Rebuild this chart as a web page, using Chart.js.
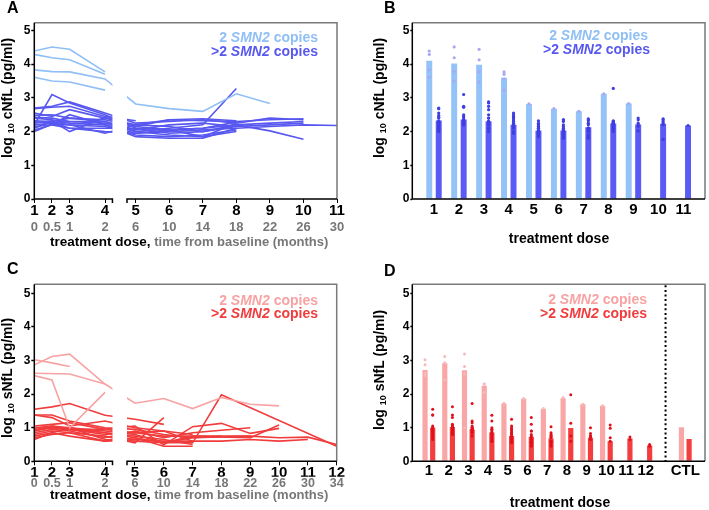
<!DOCTYPE html>
<html><head><meta charset="utf-8">
<script src="https://cdn.jsdelivr.net/npm/chart.js@4.4.1/dist/chart.umd.min.js"></script>
<style>
html,body{margin:0;padding:0;background:#fff;}
#wrap{position:relative;width:709px;height:510px;overflow:hidden;font-family:"Liberation Sans",Arial,sans-serif;}
#wrap canvas{position:absolute;}
.t{position:absolute;font-weight:bold;white-space:nowrap;line-height:1;}
.pl{font-size:16px;color:#000;}
.yt{font-size:14px;color:#000;transform:translate(-50%,-50%) rotate(-90deg);}
.yt sub{font-size:9px;vertical-align:-2px;}
.lg{font-size:14px;}
.xt{font-size:13.5px;color:#000;}
.xt span{color:#777;font-size:13px;}
.xc{font-size:14px;color:#000;transform:translateX(-50%);}
</style></head>
<body><div id="wrap">
<canvas id="cA" width="354" height="255" style="left:0;top:0"></canvas>
<canvas id="cB" width="355" height="255" style="left:354px;top:0"></canvas>
<canvas id="cC" width="354" height="255" style="left:0;top:255px"></canvas>
<canvas id="cD" width="355" height="255" style="left:354px;top:255px"></canvas>

<div class="t pl" style="left:7px;top:0px">A</div>
<div class="t pl" style="left:384px;top:0px">B</div>
<div class="t pl" style="left:7px;top:261px">C</div>
<div class="t pl" style="left:384px;top:263px">D</div>

<div class="t yt" style="left:8px;top:98px">log <sub>10</sub> cNfL (pg/ml)</div>
<div class="t yt" style="left:380px;top:98px">log <sub>10</sub> cNfL (pg/ml)</div>
<div class="t yt" style="left:8px;top:378px">log <sub>10</sub> sNfL (pg/ml)</div>
<div class="t yt" style="left:380px;top:370px">log <sub>10</sub> sNfL (pg/ml)</div>

<div class="t lg" style="right:391px;top:30px;color:#8fbff5">2 <i>SMN2</i> copies</div>
<div class="t lg" style="right:391px;top:44px;color:#5858f0">&gt;2 <i>SMN2</i> copies</div>
<div class="t lg" style="right:61px;top:28px;color:#8fbff5">2 <i>SMN2</i> copies</div>
<div class="t lg" style="right:59px;top:42px;color:#5858f0">&gt;2 <i>SMN2</i> copies</div>
<div class="t lg" style="right:391px;top:293px;color:#f7a3a3">2 <i>SMN2</i> copies</div>
<div class="t lg" style="right:391px;top:306px;color:#f03c3c">&gt;2 <i>SMN2</i> copies</div>
<div class="t lg" style="right:62px;top:292px;color:#f7a3a3">2 <i>SMN2</i> copies</div>
<div class="t lg" style="right:62px;top:306px;color:#f03c3c">&gt;2 <i>SMN2</i> copies</div>

<div class="t xt" style="left:50px;top:235px">treatment dose, <span>time from baseline (months)</span></div>
<div class="t xt" style="left:50px;top:488px">treatment dose, <span>time from baseline (months)</span></div>
<div class="t xc" style="left:559px;top:231px">treatment dose</div>
<div class="t xc" style="left:560px;top:495px">treatment dose</div>
</div>
<script>
// ---------------- DATA ----------------
const Y_TICKS = [0, 1, 2, 3, 4, 5];

// Panel A / B : cNfL
const DOSES_A = ['1','2','3','4','5','6','7','8','9','10','11'];
const MONTHS_A = [0, 0.5, 1, 2, 6, 10, 14, 18, 22, 26, 30];
const MONTH_LABELS_A = ['0','0.5','1','2','6','10','14','18','22','26','30'];

// 2 SMN2 copies, one row per patient, values by dose (null = no sample)
const CNFL_TWO = [
  [4.39, 4.51, 4.44, 3.77],
  [4.29, 4.19, 4.13, 3.70],
  [3.83, 3.78, 3.77, 3.56, 2.82, 2.68, 2.60, 3.12, 2.83],
  [3.61, 3.50, 3.47, 3.23]
];
// >2 SMN2 copies
const CNFL_MORE = [
  [2.20, 3.10, 2.85, 2.50, 2.10, 2.05, 2.10, 2.20, 2.25, 2.30, null],
  [2.70, 2.75, 2.88, 2.55, 2.25, 2.30, 2.35, 2.25, 2.40, 2.35, null],
  [2.68, 2.72, 2.75, 2.45, 2.32, null, null, null, null, null, null],
  [2.55, 2.45, 2.65, 2.40, 2.20, 2.35, 2.32, 2.30, 2.35, 2.38, null],
  [2.48, 2.50, 2.40, 2.30, 2.05, 2.20, 2.25, 2.15, 2.20, 2.25, null],
  [2.42, 2.40, 2.30, 2.25, 2.00, 2.10, 2.20, 3.28, null, null, null],
  [2.40, 2.35, 2.25, 2.20, 1.95, 2.00, 2.05, 2.10, 2.15, 2.20, 2.18],
  [2.32, 2.30, 2.20, 2.15, 1.90, 1.85, 1.90, 2.05, null, null, null],
  [2.28, 2.28, 2.10, 2.10, 2.10, 1.95, 2.00, 2.20, 2.02, 1.77, null],
  [2.25, 2.32, 2.00, 2.42, 2.15, 2.05, 1.85, 2.25, null, null, null],
  [2.20, 2.25, 2.30, 2.30, 2.00, 1.90, 1.85, 2.00, null, null, null],
  [2.15, 2.20, 2.50, 2.20, 1.85, 1.80, 1.80, 2.10, null, null, null],
  [2.10, 2.30, 2.40, 2.35, 2.15, 2.35, 2.38, 2.32, null, null, null],
  [2.05, 2.20, 2.10, 2.00, 1.95, 2.05, 2.10, 2.28, null, null, null],
  [2.00, 2.22, 2.20, 1.95, 2.20, 2.15, 2.00, 2.15, null, null, null]
];
const B_LABELS = ['1','2','3','4','5','6','7','8','9','10','11'];
const B_TWO_BARS  = [4.10, 4.02, 3.98, 3.60, 2.82, 2.68, 2.60, 3.12, 2.83];
const B_MORE_BARS = [2.33, 2.36, 2.31, 2.20, 2.03, 2.03, 2.13, 2.24, 2.21, 2.23, 2.18];

// Panel C / D : sNfL
const DOSES_C = ['1','2','3','4','5','6','7','8','9','10','11','12'];
const MONTHS_C = [0, 0.5, 1, 2, 6, 10, 14, 18, 22, 26, 30, 34];
const MONTH_LABELS_C = ['0','0.5','1','2','6','10','14','18','22','26','30','34'];
const SNFL_TWO = [
  [2.87, 3.12, 3.19, 2.30, 1.73, 1.87, 1.57, 1.90, 1.70, 1.65],
  [3.02, 2.93, 2.82],
  [2.62, null, 2.60, 2.30],
  [2.55, 2.42, 1.00, 2.05]
];
const SNFL_MORE = [
  [1.55, 1.62, 1.72, 1.37, 1.25, 1.10, null, null, null, null, null, null],
  [1.38, 1.38, 1.20, 1.00, 0.95, 0.80, 0.70, null, 0.75, null, null, null],
  [0.80, 0.90, 0.85, 0.75, 0.55, 1.30, null, null, null, null, null, null],
  [1.00, 1.05, 1.00, 0.90, 0.80, 0.55, 0.75, null, 0.70, 1.08, null, null],
  [1.05, 1.10, 1.15, 0.95, 1.05, 0.49, 1.03, 1.13, 0.83, 0.98, null, null],
  [0.95, 1.00, 0.95, 0.80, 0.85, 0.75, 0.75, null, 0.75, 0.70, 0.72, 0.50],
  [0.70, 0.80, 0.85, 0.60, 0.65, 0.60, 0.60, 0.60, 0.65, 0.60, 0.65, null],
  [0.85, 0.95, 0.90, 0.70, 0.90, 0.70, 0.85, null, 1.00, null, null, null],
  [1.38, 1.30, 1.05, 1.20, 1.00, 0.90, 0.60, null, null, null, null, null],
  [0.65, 0.85, 1.00, 0.65, 0.60, 0.55, 0.70, 0.75, null, null, null, null],
  [0.75, 0.85, 0.75, 0.60, 0.70, 0.45, 0.45, null, null, null, null, null],
  [1.00, 1.00, 0.95, 0.95, 0.85, 0.90, 0.80, null, null, null, null, null],
  [0.90, 1.05, 0.95, 0.85, 0.75, 0.65, 0.50, null, null, null, null, null],
  [0.90, 1.00, 1.00, 0.85, 0.70, 0.55, 0.55, 1.98, null, null, null, 0.45]
];
const D_LABELS = ['1','2','3','4','5','6','7','8','9','10','11','12','','CTL'];
const D_TWO_BARS  = [2.72, 2.92, 2.71, 2.25, 1.72, 1.86, 1.56, 1.88, 1.70, 1.65];
const D_MORE_BARS = [1.00, 1.02, 0.95, 0.86, 0.75, 0.73, 0.68, 0.99, 0.70, 0.60, 0.68, 0.47];
const CTL_TWO  = 1.01;
const CTL_MORE = 0.66;

// ---------------- STYLE ----------------
const FONT = '"Liberation Sans", Arial, sans-serif';
Chart.defaults.font.family = FONT;
const COL = {
  lb: '#8fbff5', db: '#5858f0', lbBar: '#93c3f7', dbBar: '#5a5af5', lbDot: '#a9a9f2', dbDot: '#3e3ee2',
  lr: '#f7a3a3', dr: '#f03c3c', lrBar: '#f9a6a6', drBar: '#f43e3e', lrDot: '#f5baba', drDot: '#e0101a',
  frame: '#7a7a7a', grey: '#777'
};

// broken time axis: value -> decimal mapping for the two segments
const BRK = {
  A: { a: [0, 0, 2, 0.2336], b: [6, 0.335, 30, 1], split: 4, gap: [2.21, 4.96] },
  C: { a: [0, 0, 2, 0.2338], b: [6, 0.333, 34, 1], split: 4, gap: [2.212, 4.89] }
};
class BrokenScale extends Chart.LinearScale {
  static id = 'broken';
  getPixelForValue(v) {
    if (v === null || v === undefined || isNaN(v)) return NaN;
    const m = BRK[this.options.brkKey];
    const s = v <= m.split ? m.a : m.b;
    const dec = s[1] + (v - s[0]) * (s[3] - s[1]) / (s[2] - s[0]);
    return this.getPixelForDecimal(dec);
  }
  getValueForPixel(p) {
    const m = BRK[this.options.brkKey];
    const dec = this.getDecimalForPixel(p);
    const s = dec <= (m.a[3] + m.b[1]) / 2 ? m.a : m.b;
    return s[0] + (dec - s[1]) * (s[2] - s[0]) / (s[3] - s[1]);
  }
}
Chart.register(BrokenScale);

function framePlugin(o) {
  return {
    id: 'frame' + Math.random().toString(36).slice(2),
    afterDatasetsDraw(chart) {
      const { ctx, chartArea: a, scales } = chart;
      ctx.save();
      let g0, g1;
      if (o.gapKey) {
        const g = BRK[o.gapKey].gap;
        g0 = scales.x.getPixelForValue(g[0]);
        g1 = scales.x.getPixelForValue(g[1]);
        ctx.fillStyle = '#fff';
        ctx.fillRect(g0, a.top + 1, g1 - g0, a.bottom - a.top + 1);
      }
      if (o.divider !== undefined) {
        const xd = scales.x.getPixelForValue(o.divider);
        ctx.strokeStyle = '#000'; ctx.lineWidth = 2; ctx.setLineDash([2, 2.6]);
        ctx.beginPath(); ctx.moveTo(xd, a.top + 1); ctx.lineTo(xd, a.bottom); ctx.stroke();
        ctx.setLineDash([]);
      }
      ctx.strokeStyle = COL.frame; ctx.lineWidth = 1.5;
      ctx.beginPath(); ctx.moveTo(a.left, a.top); ctx.lineTo(a.right, a.top); ctx.lineTo(a.right, a.bottom); ctx.stroke();
      ctx.strokeStyle = '#000'; ctx.lineWidth = 1.5;
      ctx.beginPath();
      ctx.moveTo(a.left, a.top); ctx.lineTo(a.left, a.bottom);
      if (o.gapKey) {
        ctx.lineTo(g0, a.bottom); ctx.lineTo(g0, a.bottom + 4);
        ctx.moveTo(g1, a.bottom + 4); ctx.lineTo(g1, a.bottom); ctx.lineTo(a.right, a.bottom);
      } else {
        ctx.lineTo(a.right, a.bottom);
      }
      ctx.stroke();
      ctx.restore();
    }
  };
}

function yScale(max, width, tickLen) {
  return {
    type: 'linear', min: 0, max: max, position: 'left',
    afterBuildTicks: s => { s.ticks = Y_TICKS.map(v => ({ value: v })); },
    afterFit: s => { s.width = width; },
    grid: { drawOnChartArea: false, drawTicks: true, tickLength: tickLen, tickColor: '#000', tickWidth: 1.5 },
    border: { display: false },
    ticks: { color: '#000', font: { size: 12, weight: 'bold', lineHeight: 1 }, padding: 1 }
  };
}
function brokenX(key, months, labels, h, tickLen, pad, size, color, weight, ticksOn) {
  return {
    type: 'broken', brkKey: key, axis: 'x', position: 'bottom', weight: weight,
    min: months[0], max: months[months.length - 1],
    afterBuildTicks: s => { s.ticks = months.map(v => ({ value: v })); },
    afterFit: s => { s.height = h; },
    grid: { display: ticksOn, drawOnChartArea: false, drawTicks: ticksOn, tickLength: tickLen, tickColor: '#000', tickWidth: 1 },
    border: { display: false },
    ticks: { autoSkip: false, maxRotation: 0, minRotation: 0, color: color,
      font: { size: size, weight: 'bold', lineHeight: 1 }, padding: pad, callback: (v, i) => labels[i] }
  };
}
function lineSets(rows, months, color) {
  return rows.map(r => ({
    type: 'line', data: r.map((v, i) => ({ x: months[i], y: v })),
    borderColor: color, borderWidth: 1.6, pointRadius: 0, tension: 0, spanGaps: true, fill: false
  }));
}
function dots(rows, offset) {
  const pts = [];
  rows.forEach(r => r.forEach((v, i) => { if (v !== null && v !== undefined) pts.push({ x: i + 1 + offset, y: v }); }));
  return pts;
}
const common = { responsive: false, animation: false, events: [],
  plugins: { legend: { display: false }, tooltip: { enabled: false } } };

// ---------------- PANEL A ----------------
new Chart(document.getElementById('cA'), {
  type: 'line',
  data: { datasets: [...lineSets(CNFL_TWO, MONTHS_A, COL.lb), ...lineSets(CNFL_MORE, MONTHS_A, COL.db)] },
  options: { ...common,
    layout: { padding: { left: 0, top: 22.7, right: 17, bottom: 21.5 } },
    scales: {
      x: brokenX('A', MONTHS_A, DOSES_A, 21.5, 4, 0, 15, '#000', 0, true),
      x2: brokenX('A', MONTHS_A, MONTH_LABELS_A, 13, 0, 0, 13, COL.grey, 1, false),
      y: yScale(5.23, 34.3, 3)
    }
  },
  plugins: [framePlugin({ gapKey: 'A' })]
});

// ---------------- PANEL B ----------------
const B_CAT = 0.76;
new Chart(document.getElementById('cB'), {
  type: 'bar',
  data: { datasets: [
    { type: 'scatter', data: dots(CNFL_TWO, -B_CAT / 4), pointRadius: 1.6, pointBorderWidth: 0, backgroundColor: COL.lbDot, order: 1 },
    { type: 'scatter', data: dots(CNFL_MORE, B_CAT / 4), pointRadius: 1.6, pointBorderWidth: 0, backgroundColor: COL.dbDot, order: 1 },
    { type: 'bar', data: B_TWO_BARS.map((v, i) => ({ x: i + 1, y: v })), backgroundColor: COL.lbBar, categoryPercentage: B_CAT, barPercentage: 0.63, order: 2 },
    { type: 'bar', data: B_MORE_BARS.map((v, i) => ({ x: i + 1, y: v })), backgroundColor: COL.dbBar, categoryPercentage: B_CAT, barPercentage: 0.63, order: 2 }
  ] },
  options: { ...common,
    layout: { padding: { left: 0, top: 22.7, right: 4, bottom: 30 } },
    scales: {
      x: { type: 'linear', min: 0.13, max: 11.87, offset: false, position: 'bottom',
        afterBuildTicks: s => { s.ticks = B_LABELS.map((l, i) => ({ value: i + 1 })); },
        afterFit: s => { s.height = 26; },
        grid: { display: false, drawTicks: false, offset: false }, border: { display: false },
        ticks: { autoSkip: false, maxRotation: 0, color: '#000', font: { size: 15, weight: 'bold', lineHeight: 1 }, padding: 3.5, callback: (v, i) => B_LABELS[i] } },
      y: yScale(5.23, 58.3, 2)
    }
  },
  plugins: [framePlugin({})]
});

// ---------------- PANEL C ----------------
new Chart(document.getElementById('cC'), {
  type: 'line',
  data: { datasets: [...lineSets(SNFL_TWO, MONTHS_C, COL.lr), ...lineSets(SNFL_MORE, MONTHS_C, COL.dr)] },
  options: { ...common,
    layout: { padding: { left: 0, top: 29.3, right: 17.3, bottom: 20.7 } },
    scales: {
      x: brokenX('C', MONTHS_C, DOSES_C, 15.5, 4, 0, 15, '#000', 0, true),
      x2: brokenX('C', MONTHS_C, MONTH_LABELS_C, 12.5, 0, 0, 12.5, COL.grey, 1, false),
      y: yScale(5.268, 34.3, 3)
    }
  },
  plugins: [framePlugin({ gapKey: 'C' })]
});

// ---------------- PANEL D ----------------
const D_CAT = 0.775;
const CTL_POS = D_LABELS.indexOf('CTL') + 1;
const DIV_POS = D_LABELS.indexOf('') + 1;
new Chart(document.getElementById('cD'), {
  type: 'bar',
  data: { datasets: [
    { type: 'scatter', data: dots(SNFL_TWO, -D_CAT / 4), pointRadius: 1.5, pointBorderWidth: 0, backgroundColor: COL.lrDot, order: 1 },
    { type: 'scatter', data: dots(SNFL_MORE, D_CAT / 4), pointRadius: 1.5, pointBorderWidth: 0, backgroundColor: COL.drDot, order: 1 },
    { type: 'bar', data: D_TWO_BARS.map((v, i) => ({ x: i + 1, y: v })).concat([{ x: CTL_POS, y: CTL_TWO }]),
      backgroundColor: COL.lrBar, categoryPercentage: D_CAT, barPercentage: 0.68, order: 2 },
    { type: 'bar', data: D_MORE_BARS.map((v, i) => ({ x: i + 1, y: v })).concat([{ x: CTL_POS, y: CTL_MORE }]),
      backgroundColor: COL.drBar, categoryPercentage: D_CAT, barPercentage: 0.68, order: 2 }
  ] },
  options: { ...common,
    layout: { padding: { left: 0, top: 29.3, right: 1.3, bottom: 28.7 } },
    scales: {
      x: { type: 'linear', min: 0.16, max: 15, offset: false, position: 'bottom',
        afterBuildTicks: s => { s.ticks = D_LABELS.map((l, i) => ({ value: i + 1 })); },
        afterFit: s => { s.height = 20; },
        grid: { display: false, drawTicks: false, offset: false }, border: { display: false },
        ticks: { autoSkip: false, maxRotation: 0, color: '#000', font: { size: 15, weight: 'bold', lineHeight: 1 }, padding: 2.2, callback: (v, i) => D_LABELS[i] } },
      y: yScale(5.268, 58.3, 2)
    }
  },
  plugins: [framePlugin({ divider: DIV_POS })]
});
</script>
</body></html>
